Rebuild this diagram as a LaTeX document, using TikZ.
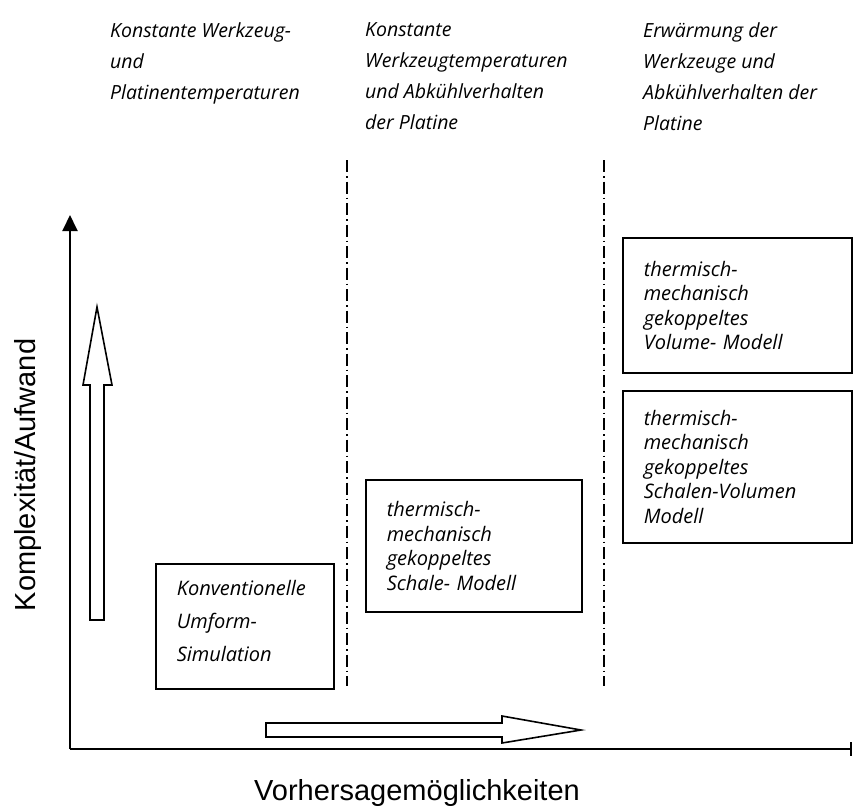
\documentclass[tikz,border=0pt]{standalone}
\usepackage{fontspec}
\setmainfont{Liberation Sans}
\newfontfamily\headfont{Open Sans}
\usetikzlibrary{arrows.meta, positioning}

\begin{document}
\begin{tikzpicture}[
    x=1pt, y=-1pt,
    head/.style={anchor=north west, align=left, inner sep=0pt,
        font={\headfont\itshape\fontsize{19.5}{31}\selectfont}},
    model/.style={draw, line width=1.6pt, anchor=north west, align=left,
        inner xsep=21pt, font={\headfont\itshape\fontsize{20}{24.5}\selectfont}},
    sep/.style={line width=1.3pt, dash pattern=on 12pt off 4pt on 1.5pt off 4pt},
    axis/.style={line width=2pt},
    hollow/.style={draw, line width=1.6pt, fill=white},
    label_text/.style={font=\fontsize{29}{30}\selectfont}
]
    \useasboundingbox (0,0) rectangle (854,807);

    % Column headings
    \node[head] (headA) at (110,22) {Konstante Werkzeug-\\und\\Platinentemperaturen};
    \node[head] (headB) at (365,22) {Konstante\\Werkzeugtemperaturen\\und Abkühlverhalten\\der Platine};
    \node[head] (headC) at (643,22) {Erwärmung der\\Werkzeuge und\\Abkühlverhalten der\\Platine};

    % Separators
    \coordinate (sepA_top) at (347,160);
    \coordinate (sepA_bot) at (347,686);
    \coordinate (sepB_top) at (604,160);
    \coordinate (sepB_bot) at (604,686);
    \draw[sep] (sepA_top) -- (sepA_bot);
    \draw[sep] (sepB_top) -- (sepB_bot);

    % Models
    \node[model, text width=136pt, minimum height=125pt,
        font={\headfont\itshape\fontsize{20}{33}\selectfont}] (conv) at (155,563)
        {Konventionelle\\Umform-\\Simulation\rule[-10pt]{0pt}{10pt}};
    \node[model, text width=174pt, minimum height=132pt] (shell) at (365,479)
        {thermisch-\\mechanisch\\gekoppeltes\\Schale- Modell};
    \node[model, text width=187pt, minimum height=135pt] (volume) at (622,237)
        {thermisch-\\mechanisch\\gekoppeltes\\Volume- Modell};
    \node[model, text width=187pt, minimum height=152pt] (shellvol) at (622,390)
        {thermisch-\\mechanisch\\gekoppeltes\\Schalen-Volumen\\Modell};

    % Axes
    \coordinate (origin) at (70,749);
    \coordinate (y_end) at (70,215);
    \coordinate (x_end) at (852,749);
    \draw[axis, -{Triangle[length=16pt, width=15pt]}] (origin) -- (y_end);
    \draw[axis, -{Bar[width=14pt, line width=2pt]}] (origin) -- (x_end);

    % Trend arrows
    \draw[hollow] (90,620) -- (90,385) -- (83,385) -- (97,307) -- (112,385)
        -- (104,385) -- (104,620) -- cycle;
    \draw[hollow] (266,723) -- (502,723) -- (502,716) -- (581,730) -- (502,743)
        -- (502,737) -- (266,737) -- cycle;

    % Axis labels
    \node[label_text, anchor=base] (x_label) at (417,800) {Vorhersagemöglichkeiten};
    \node[label_text, anchor=base, rotate=90] (y_label) at (35,475) {Komplexität/Aufwand};

\end{tikzpicture}
\end{document}
